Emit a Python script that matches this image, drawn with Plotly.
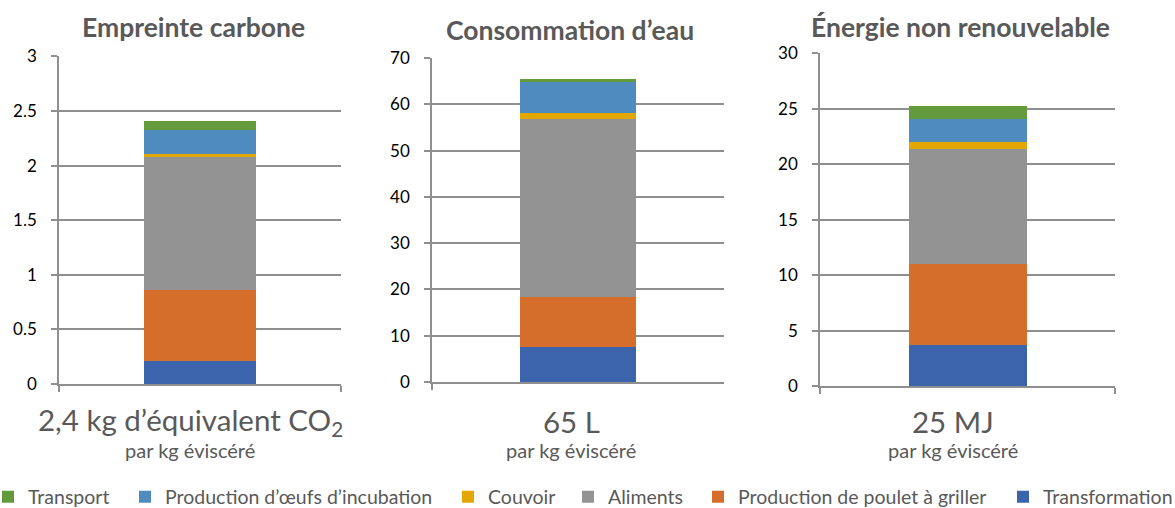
import plotly.graph_objects as go

W, H = 1175, 508

series = ["Transformation", "Production de poulet à griller", "Aliments",
          "Couvoir", "Production d’œufs d’incubation", "Transport"]
colors = ["#3c64ad", "#d46e2a", "#939393", "#e3a800", "#4f8bbf", "#629a3c"]

carbone = [0.21, 0.654, 1.215, 0.03, 0.22, 0.08]
eau = [7.6, 10.8, 38.4, 1.3, 6.7, 0.6]
energie = [3.72, 7.33, 10.33, 0.62, 2.05, 1.2]

titles = ["Empreinte carbone", "Consommation d’eau", "Énergie non renouvelable"]
totals = ["2,4 kg d’équivalent CO<sub>2</sub>", "65 L", "25 MJ"]
subtitle = "par kg éviscéré"
yranges = [[0, 3], [0, 70], [0, 30]]
ydtick = [0.5, 10, 5]

# pixel layout (left, right, top, bottom of each plot area)
boxes = [(59, 341, 56.4, 384), (432, 724, 58, 382), (820, 1115, 53, 386.3)]
title_cx = [193.5, 569.5, 960]
label_cx = [190, 571, 952.5]
# left pixel of each legend entry, in series order
legend_px = [1015, 710, 580, 460, 137, 0]

FONT = "Gill Sans, Lato, sans-serif"
GRID = "#8f8f8f"
TXT = "#595959"

fig = go.Figure()
datasets = [carbone, eau, energie]
for k, data in enumerate(datasets):
    sfx = "" if k == 0 else str(k + 1)
    for i, name in enumerate(series):
        fig.add_trace(go.Bar(
            x=["a"], y=[data[i]], name=name, marker_color=colors[i],
            marker_line_width=0, width=0.4, showlegend=(k == 0),
            legend="legend" if i == 0 else "legend" + str(i + 1),
            xaxis="x" + sfx, yaxis="y" + sfx,
            hovertemplate=name + ": %{y}<extra></extra>"))

layout = dict(
    width=W, height=H, barmode="stack", plot_bgcolor="white", paper_bgcolor="white",
    margin=dict(l=0, r=0, t=0, b=0, autoexpand=False), font=dict(family=FONT, color="#000"),
    annotations=[], showlegend=True,
)
for i, px in enumerate(legend_px):
    key = "legend" if i == 0 else "legend" + str(i + 1)
    layout[key] = dict(orientation="h", x=(px - 12) / W, xanchor="left",
                       y=1 - 497 / H, yanchor="middle", bgcolor="rgba(0,0,0,0)",
                       font=dict(size=19.5, color=TXT, family=FONT), itemwidth=30)

for k, (l, r, t, b) in enumerate(boxes):
    sfx = "" if k == 0 else str(k + 1)
    layout["xaxis" + sfx] = dict(
        domain=[l / W, r / W], range=[-0.5, 0.5], type="category",
        showline=True, linecolor=GRID, linewidth=1.5, ticks="outside", tickson="boundaries",
        ticklen=6, tickcolor=GRID, tickwidth=1.5, showticklabels=False, showgrid=False,
        anchor="y" + sfx, fixedrange=True)
    layout["yaxis" + sfx] = dict(
        domain=[1 - b / H, 1 - t / H], range=yranges[k], dtick=ydtick[k],
        showline=True, linecolor=GRID, linewidth=1.5, ticks="outside", ticklen=6,
        tickcolor=GRID, tickwidth=1.5, showgrid=True, gridcolor=GRID, gridwidth=1.5,
        zeroline=False, tickfont=dict(size=17, color="#000", family=FONT),
        ticklabelstandoff=11, anchor="x" + sfx, fixedrange=True)
    layout["annotations"] += [
        dict(text="<b>" + titles[k] + "</b>", x=title_cx[k] / W,
             y=1 - (27 if k != 1 else 30) / H,
             xref="paper", yref="paper", showarrow=False, xanchor="center",
             font=dict(size=26.5, color=TXT, family=FONT), yanchor="middle"),
        dict(text=totals[k], x=label_cx[k] / W, y=1 - 421 / H, xref="paper", yref="paper",
             showarrow=False, xanchor="center",
             font=dict(size=29.5, color=TXT, family=FONT), yanchor="middle"),
        dict(text=subtitle, x=label_cx[k] / W, y=1 - 450 / H, xref="paper", yref="paper",
             showarrow=False, xanchor="center",
             font=dict(size=20, color=TXT, family=FONT), yanchor="middle"),
    ]

fig.update_layout(**layout)
fig.write_html("out.html", config={"displayModeBar": False},
               post_script="document.body.style.margin='0';")
